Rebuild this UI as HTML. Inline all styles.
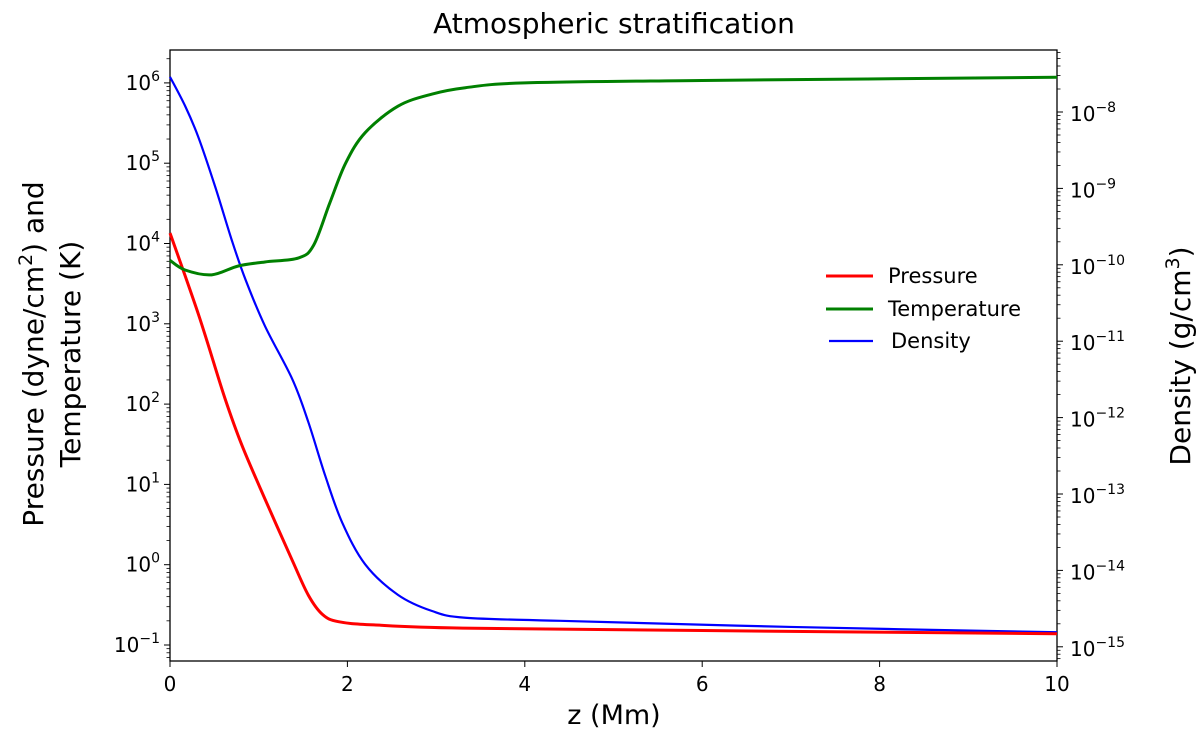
<!DOCTYPE html>
<html><head><meta charset="utf-8"><style>
body{margin:0;background:#fff}
svg{display:block;font-family:"DejaVu Sans","Liberation Sans",sans-serif}
</style></head><body>
<svg id="chart" width="1200" height="732" viewBox="0 0 1200 732" xmlns="http://www.w3.org/2000/svg">
<text x="614" y="33" font-size="28" text-anchor="middle">Atmospheric stratification</text>
<g id="axes"></g>
<g id="series"></g>
<text x="614" y="724" font-size="27" text-anchor="middle">z (Mm)</text>
<text transform="translate(43,354) rotate(-90)" font-size="28" text-anchor="middle">Pressure (dyne/cm<tspan font-size="19" dy="-11">2</tspan><tspan dy="11">) and</tspan></text>
<text transform="translate(80,354) rotate(-90)" font-size="28" text-anchor="middle">Temperature (K)</text>
<text transform="translate(1190,356) rotate(-90)" font-size="28" text-anchor="middle">Density (g/cm<tspan font-size="19" dy="-11">3</tspan><tspan dy="11">)</tspan></text>
<g>
<line x1="826" y1="276" x2="873" y2="276" stroke="#ff0000" stroke-width="3"/>
<text x="888" y="283" font-size="21">Pressure</text>
<line x1="826" y1="309" x2="873" y2="309" stroke="#008000" stroke-width="3"/>
<text x="888" y="316" font-size="21">Temperature</text>
<line x1="829" y1="341" x2="873" y2="341" stroke="#0000ff" stroke-width="2.2"/>
<text x="891" y="348" font-size="21">Density</text>
</g>
</svg>
<script>
const xTicks=[0,2,4,6,8,10];
const leftTicks=[-1,0,1,2,3,4,5,6];
const rightTicks=[-15,-14,-13,-12,-11,-10,-9,-8];
const pZ=[0,0.17,0.32,0.43,0.62,0.81,1.07,1.38,1.56,1.72,1.9,2.3,3.3,6,10];
const pLog=[4.13,3.60,3.12,2.74,2.07,1.49,0.82,0.05,-0.38,-0.62,-0.71,-0.75,-0.79,-0.82,-0.86];
const tZ=[0,0.17,0.47,0.77,1.07,1.45,1.62,1.8,1.98,2.2,2.57,2.95,3.33,4,6,10];
const tLog=[3.79,3.67,3.61,3.72,3.77,3.82,3.98,4.50,5.00,5.38,5.71,5.86,5.94,6.0,6.03,6.07];
const dZ=[0,0.17,0.32,0.51,0.70,0.85,1.07,1.38,1.56,1.75,1.94,2.2,2.57,2.95,3.33,4.4,7,10];
const dLog=[-7.54,-7.92,-8.33,-8.98,-9.69,-10.19,-10.80,-11.50,-12.06,-12.76,-13.37,-13.92,-14.32,-14.53,-14.62,-14.66,-14.74,-14.81];
const NS="http://www.w3.org/2000/svg";
const X0=170,X1=1057,T=50,B=661;
const xs=z=>X0+(z/10)*(X1-X0);
const yL=l=>645-(l+1)*80.3;
const yR=l=>112+(-8-l)*76.4;
function mk(tag,attrs,parent){const e=document.createElementNS(NS,tag);for(const k in attrs)e.setAttribute(k,attrs[k]);parent.appendChild(e);return e;}
const ax=document.getElementById('axes');
const frame=mk('rect',{x:X0,y:T,width:X1-X0,height:B-T,fill:'none',stroke:'#000','stroke-width':1.3},ax);


xTicks.forEach(v=>{const x=xs(v);mk('line',{x1:x,x2:x,y1:B,y2:B+6,stroke:'#000'},ax);
 const t=mk('text',{x:x,y:B+30,'font-size':20,'text-anchor':'middle'},ax);t.textContent=v;
 
 });
function sup(t,base,exp){t.textContent=base;const s=document.createElementNS(NS,'tspan');s.setAttribute('font-size','14');s.setAttribute('dy','-9');s.textContent=exp;t.appendChild(s);}
function minors(yf,decs,x,dir){decs.forEach(d=>{for(let m=2;m<10;m++){const y=yf(d+Math.log10(m));if(y>T&&y<B)mk('line',{x1:x,x2:x+dir*3.5,y1:y,y2:y,stroke:'#000','stroke-width':0.8},ax);}});}
leftTicks.forEach(v=>{const y=yL(v);mk('line',{x1:X0,x2:X0-6,y1:y,y2:y,stroke:'#000'},ax);
 const t=mk('text',{x:X0-10,y:y+7,'font-size':20,'text-anchor':'end'},ax);sup(t,'10',v<0?'\u2212'+(-v):''+v);
 
 });
minors(yL,[-2,-1,0,1,2,3,4,5,6],X0,-1);
rightTicks.forEach(v=>{const y=yR(v);mk('line',{x1:X1,x2:X1+6,y1:y,y2:y,stroke:'#000'},ax);
 const t=mk('text',{x:X1+13,y:y+9,'font-size':20,'text-anchor':'start'},ax);sup(t,'10','\u2212'+(-v));
 
 });
minors(yR,[-16,-15,-14,-13,-12,-11,-10,-9,-8,-7],X1,1);
function path(zs,ls,yf){const p=zs.map((z,i)=>[xs(z),yf(ls[i])]);let d='M'+p[0][0]+','+p[0][1];
 for(let i=0;i<p.length-1;i++){const p0=p[i-1]||p[i],p1=p[i],p2=p[i+1],p3=p[i+2]||p2;
  d+=` C${p1[0]+(p2[0]-p0[0])/6},${p1[1]+(p2[1]-p0[1])/6} ${p2[0]-(p3[0]-p1[0])/6},${p2[1]-(p3[1]-p1[1])/6} ${p2[0]},${p2[1]}`;}
 return d;}
const sg=document.getElementById('series');
const dl=mk('path',{d:path(dZ,dLog,yR),fill:'none',stroke:'#0000ff','stroke-width':2.2},sg);


const pl=mk('path',{d:path(pZ,pLog,yL),fill:'none',stroke:'#ff0000','stroke-width':3},sg);


const tl=mk('path',{d:path(tZ,tLog,yL),fill:'none',stroke:'#008000','stroke-width':3},sg);


</script>
</body></html>
